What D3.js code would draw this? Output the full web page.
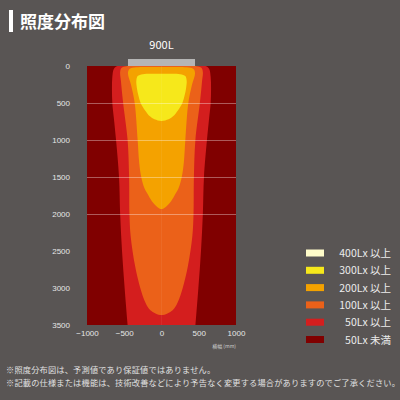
<!DOCTYPE html>
<html lang="ja">
<head>
  <meta charset="UTF-8">
  <title>照度分布図</title>
  <script src="https://d3js.org/d3.v7.min.js"></script>
  <style>
    html, body { margin: 0; padding: 0; background: #595554; }
    svg { display: block; font-family: "Noto Sans CJK JP", "Noto Sans", sans-serif; }
    .tick text { fill: #e6e6e6; }
  </style>
</head>
<body>
  <div id="chart"></div>

  <script>
    // y = distance from lamp (mm), x = lateral offset (mm)
    const yTicks = [0, 500, 1000, 1500, 2000, 2500, 3000, 3500];
    const xTicks = [-1000, -500, 0, 500, 1000];
    const gridDepths = [500, 1000, 1500, 2000];
    const lampWidth = 900;

    // contour profiles: depth and half-width (mm), right side, top to bottom
    const depth50 = [-20, 0, 40, 150, 300, 500, 700, 1000, 1500, 2000, 2500, 3000, 3500, 3800, 3850];
    const half50 = [0, 590, 640, 660, 665, 660, 640, 610, 570, 555, 530, 495, 455, 430, 0];
    const depth100 = [0, 3, 25, 80, 200, 500, 1000, 1500, 2000, 2300, 2700, 3000, 3200, 3300, 3365];
    const half100 = [0, 470, 535, 555, 545, 515, 455, 435, 430, 414, 355, 285, 215, 150, 0];
    const depth200 = [15, 18, 40, 100, 250, 500, 1000, 1300, 1500, 1650, 1750, 1850, 1932];
    const half200 = [0, 340, 430, 450, 410, 360, 320, 300, 272, 230, 175, 110, 0];
    const depth300 = [105, 110, 135, 200, 300, 400, 500, 600, 680, 720, 742];
    const half300 = [0, 250, 320, 338, 330, 310, 280, 220, 155, 95, 0];

    const legendLabels = ["400Lx 以上", "300Lx 以上", "200Lx 以上", "100Lx 以上", "50Lx 以上", "50Lx 未満"];
    const legendColors = ["#fffcc9", "#f6e81b", "#f4a200", "#eb6119", "#d41e1e", "#800000"];

    const notes = [
      "※照度分布図は、予測値であり保証値ではありません。",
      "※記載の仕様または機能は、技術改善などにより予告なく変更する場合がありますのでご了承ください。"
    ];

    const W = 400, H = 400;
    const svg = d3.select("#chart").append("svg")
      .attr("width", W).attr("height", H);

    // title
    svg.append("rect").attr("x", 9).attr("y", 10).attr("width", 4).attr("height", 22).attr("fill", "#ffffff");
    svg.append("text").attr("x", 20).attr("y", 28)
      .attr("fill", "#ffffff").attr("font-size", 17).attr("font-weight", "bold")
      .text("照度分布図");

    const x = d3.scaleLinear().domain([-1000, 1000]).range([87, 236]);
    const y = d3.scaleLinear().domain([0, 3500]).range([66, 325]);

    svg.append("clipPath").attr("id", "plot-clip")
      .append("rect")
      .attr("x", x(-1000)).attr("y", y(0))
      .attr("width", x(1000) - x(-1000)).attr("height", y(3500) - y(0));

    const plot = svg.append("g").attr("clip-path", "url(#plot-clip)");

    plot.append("rect")
      .attr("x", x(-1000)).attr("y", y(0))
      .attr("width", x(1000) - x(-1000)).attr("height", y(3500) - y(0))
      .attr("fill", legendColors[5]);

    const contourLine = d3.line()
      .x(d => x(d[0]))
      .y(d => y(d[1]))
      .curve(d3.curveCatmullRomClosed.alpha(0.5));

    function outline(depths, halves) {
      const right = depths.map((d, i) => [halves[i], d]);
      const left = depths.map((d, i) => [-halves[i], d])
        .filter(p => p[0] !== 0)
        .reverse();
      return right.concat(left);
    }

    const contours = [
      { pts: outline(depth50, half50), color: legendColors[4] },
      { pts: outline(depth100, half100), color: legendColors[3] },
      { pts: outline(depth200, half200), color: legendColors[2] },
      { pts: outline(depth300, half300), color: legendColors[1] }
    ];

    plot.selectAll(".contour")
      .data(contours)
      .enter()
      .append("path")
      .attr("class", "contour")
      .attr("d", d => contourLine(d.pts))
      .attr("fill", d => d.color);

    // faint center seam
    plot.append("line")
      .attr("x1", x(0)).attr("x2", x(0))
      .attr("y1", y(0)).attr("y2", y(3500))
      .attr("stroke", "#ffffff").attr("stroke-opacity", 0.06).attr("stroke-width", 1);

    plot.selectAll(".grid")
      .data(gridDepths)
      .enter()
      .append("line")
      .attr("class", "grid")
      .attr("x1", x(-1000)).attr("x2", x(1000))
      .attr("y1", d => y(d) + 0.5).attr("y2", d => y(d) + 0.5)
      .attr("stroke", "#ffffff").attr("stroke-opacity", 0.45).attr("stroke-width", 0.8);

    // lamp
    svg.append("rect")
      .attr("x", x(-lampWidth / 2)).attr("y", y(0) - 7)
      .attr("width", x(lampWidth / 2) - x(-lampWidth / 2)).attr("height", 7)
      .attr("fill", "#b5b5b5");
    svg.append("text")
      .attr("x", x(0)).attr("y", 49)
      .attr("text-anchor", "middle")
      .attr("fill", "#ffffff").attr("font-size", 11)
      .text(lampWidth + "L");

    // axes
    const yAxis = svg.append("g")
      .attr("transform", `translate(${x(-1000)},0)`)
      .call(d3.axisLeft(y).tickValues(yTicks).tickSize(0).tickPadding(17).tickFormat(d3.format("d")));
    yAxis.select(".domain").remove();
    yAxis.selectAll("text").attr("font-size", 8).attr("font-family", "inherit");

    const xAxis = svg.append("g")
      .attr("transform", `translate(0,${y(3500)})`)
      .call(d3.axisBottom(x).tickValues(xTicks).tickSize(0).tickPadding(5)
        .tickFormat(d => d < 0 ? "\u2212" + Math.abs(d) : d));
    xAxis.select(".domain").remove();
    xAxis.selectAll("text").attr("font-size", 8).attr("font-family", "inherit");

    svg.append("text")
      .attr("x", 236).attr("y", 348)
      .attr("text-anchor", "end")
      .attr("fill", "#cfcfcf").attr("font-size", 5)
      .text("横幅 (mm)");

    // legend
    const legend = svg.append("g");
    const rows = legend.selectAll(".row")
      .data(legendLabels)
      .enter()
      .append("g")
      .attr("transform", (d, i) => `translate(0,${253 + i * 17.3})`);
    rows.append("rect")
      .attr("x", 306).attr("y", -3.5)
      .attr("width", 18).attr("height", 7)
      .attr("fill", (d, i) => legendColors[i]);
    rows.append("text")
      .attr("x", 391).attr("y", 4)
      .attr("text-anchor", "end")
      .attr("fill", "#ececec").attr("font-size", 10.5)
      .text(d => d);

    // notes
    svg.selectAll(".note")
      .data(notes)
      .enter()
      .append("text")
      .attr("class", "note")
      .attr("x", 6).attr("y", (d, i) => 373 + i * 13)
      .attr("fill", "#e0e0e0").attr("font-size", 8.2)
      .attr("letter-spacing", 0.2)
      .text(d => d);
  </script>
</body>
</html>
